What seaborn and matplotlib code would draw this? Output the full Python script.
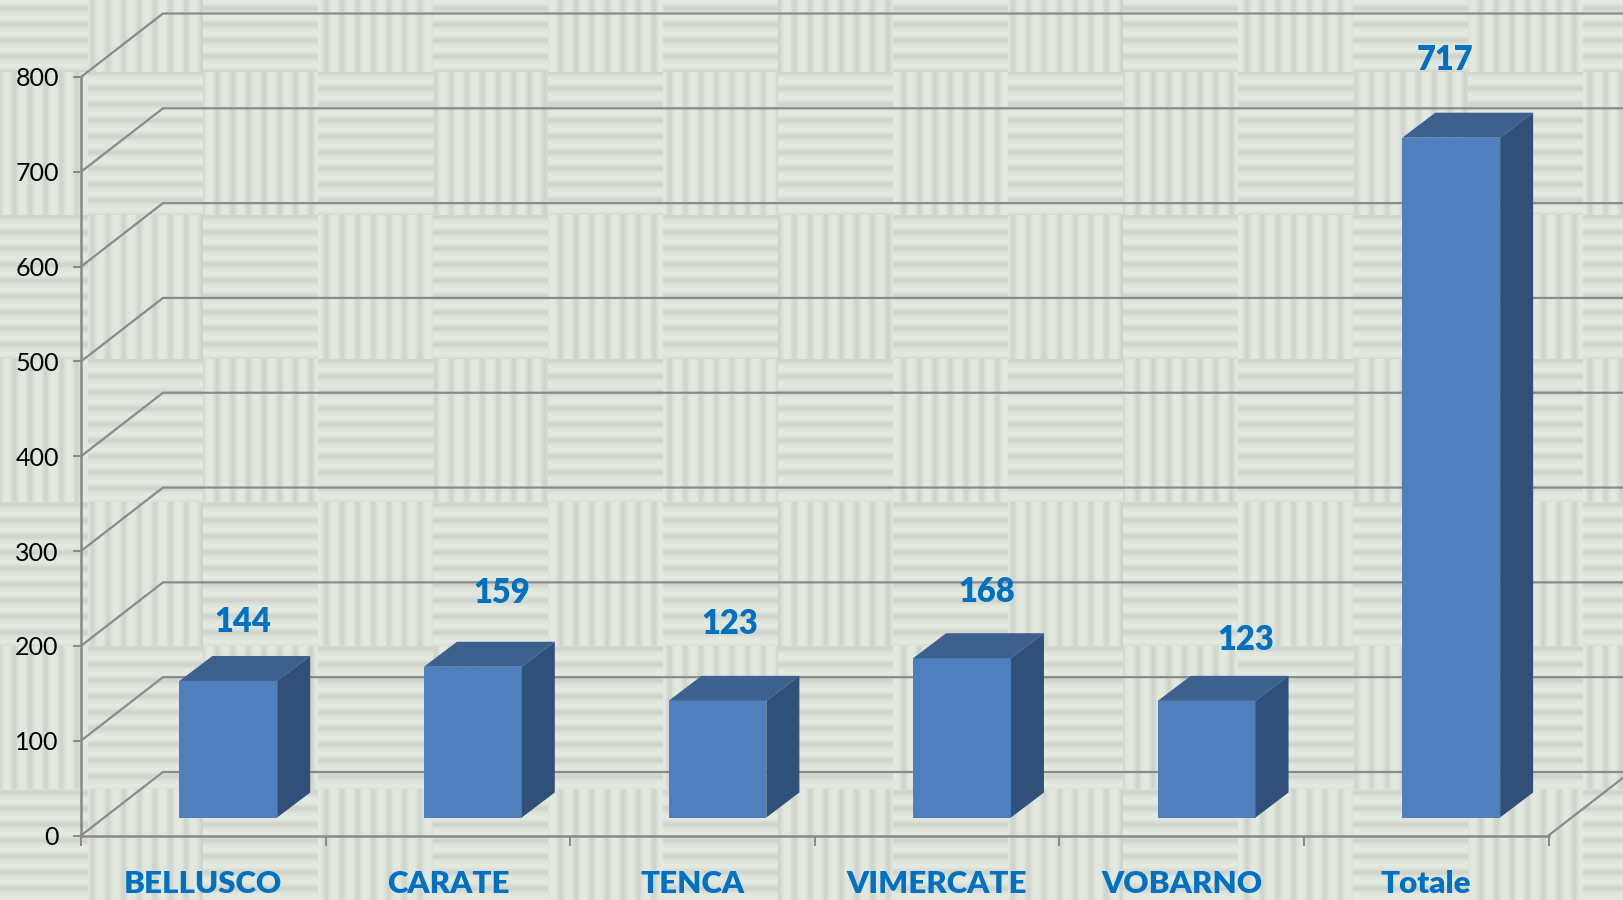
import numpy as np
import matplotlib
matplotlib.use('Agg')
import matplotlib.pyplot as plt
from matplotlib.patches import Polygon
import seaborn as sns

categories = ['BELLUSCO', 'CARATE', 'TENCA', 'VIMERCATE', 'VOBARNO', 'Totale']
values = [144, 159, 123, 168, 123, 717]
y_ticks = [0, 100, 200, 300, 400, 500, 600, 700, 800]

# label placement in pixels, relative to category centre / bar top
label_dx = [39, 54, 37, 50, 64, 19]
label_dy = [59, 74, 77, 66, 61, 78]

W, H = 1623, 900
LEFT, RIGHT, BOTTOM, TOP = 81, 1548.5, 835.5, 77

FRONT = '#4F80BD'
TOP_FACE = '#3D618F'
SIDE = '#315079'
AXIS = '#8A8A8A'
BLUE = '#0070C0'


def make_background():
    # woven stripe texture behind the chart
    yy, xx = np.mgrid[0:H, 0:W]
    col = np.floor((xx - 88) / 115).astype(int)
    row = np.floor((yy + 72) / 143.5).astype(int)
    vertical = (col + row) % 2 == 0
    vstripe = np.cos(2 * np.pi * (xx - 88 - 4) / 15.6) * 0.5 + 0.5
    hstripe = np.cos(2 * np.pi * (yy - 8) / 16) * 0.5 + 0.5
    t = np.where(vertical, vstripe, hstripe) ** 1.8
    light = np.array([228, 233, 224]) / 255
    dark = np.array([207, 213, 205]) / 255
    return light + (dark - light) * t[..., None]


sns.set_theme(style='white')
plt.rcParams['font.family'] = ['Lato', 'DejaVu Sans']

fig = plt.figure(figsize=(W / 100, H / 100), dpi=100)
fig.figimage(make_background(), origin='upper', zorder=-10)

ax = fig.add_axes([LEFT / W, (H - BOTTOM) / H, (RIGHT - LEFT) / W, (BOTTOM - TOP) / H])
ax.patch.set_visible(False)

sns.barplot(x=categories, y=values, color=FRONT, saturation=1, width=0.4, ax=ax, zorder=5)
ax.set_xlim(-0.5, 5.5)
ax.set_ylim(0, 800)

# pixels to data units
px_x = 6 / (RIGHT - LEFT)
px_y = 800 / (BOTTOM - TOP)
wall_dx, wall_dy = 82 * px_x, 63.5 * px_y
bar_dx, bar_dy = 33 * px_x, 25 * px_y
bar_shift, bar_lift = 25 * px_x, 18 * px_y

# back wall gridlines with their diagonal part
for t in y_ticks:
    ax.plot([-0.5, -0.5 + wall_dx, 7], [t, t + wall_dy, t + wall_dy],
            color=AXIS, lw=1.6, clip_on=False, zorder=1, solid_joinstyle='miter')
ax.plot([5.5, 5.5 + wall_dx], [0, wall_dy], color=AXIS, lw=1.6, clip_on=False, zorder=1)

# fake 3D: shift the seaborn bars and add top and side faces
for bar in ax.patches[:len(values)]:
    bar.set_x(bar.get_x() + bar_shift)
    bar.set_y(bar_lift)
    bar.set_linewidth(0)
    x0, x1 = bar.get_x(), bar.get_x() + bar.get_width()
    y0, y1 = bar_lift, bar_lift + bar.get_height()
    ax.add_patch(Polygon([(x0, y1), (x1, y1), (x1 + bar_dx, y1 + bar_dy), (x0 + bar_dx, y1 + bar_dy)],
                         closed=True, fc=TOP_FACE, ec='none', zorder=5, clip_on=False))
    ax.add_patch(Polygon([(x1, y0), (x1 + bar_dx, y0 + bar_dy), (x1 + bar_dx, y1 + bar_dy), (x1, y1)],
                         closed=True, fc=SIDE, ec='none', zorder=5, clip_on=False))

for i, v in enumerate(values):
    ax.annotate(str(v), xy=(i, bar_lift + v), xytext=(label_dx[i] * 0.72, label_dy[i] * 0.72),
                textcoords='offset points', ha='center', va='center',
                fontsize=23.5, fontweight='heavy', color=BLUE, zorder=6)

for side in ['top', 'right']:
    ax.spines[side].set_visible(False)
for side in ['left', 'bottom']:
    ax.spines[side].set_color(AXIS)
    ax.spines[side].set_linewidth(1.8)

ax.set_yticks(y_ticks)
ax.tick_params(axis='y', length=6, width=1.4, color=AXIS, left=True, pad=10, labelsize=18, labelcolor='black')
ax.set_xticks(range(len(categories)))
ax.set_xticklabels(categories)
ax.set_xticks(np.arange(-0.5, 6), minor=True)
ax.tick_params(axis='x', which='major', length=0, pad=25, labelsize=22.5, labelcolor=BLUE)
ax.tick_params(axis='x', which='minor', length=7, width=1.4, color=AXIS, bottom=True)
for lab in ax.get_xticklabels():
    lab.set_fontweight('heavy')
ax.set_xlabel('')
ax.set_ylabel('')

fig.savefig('out.png', dpi=100)
plt.close(fig)
